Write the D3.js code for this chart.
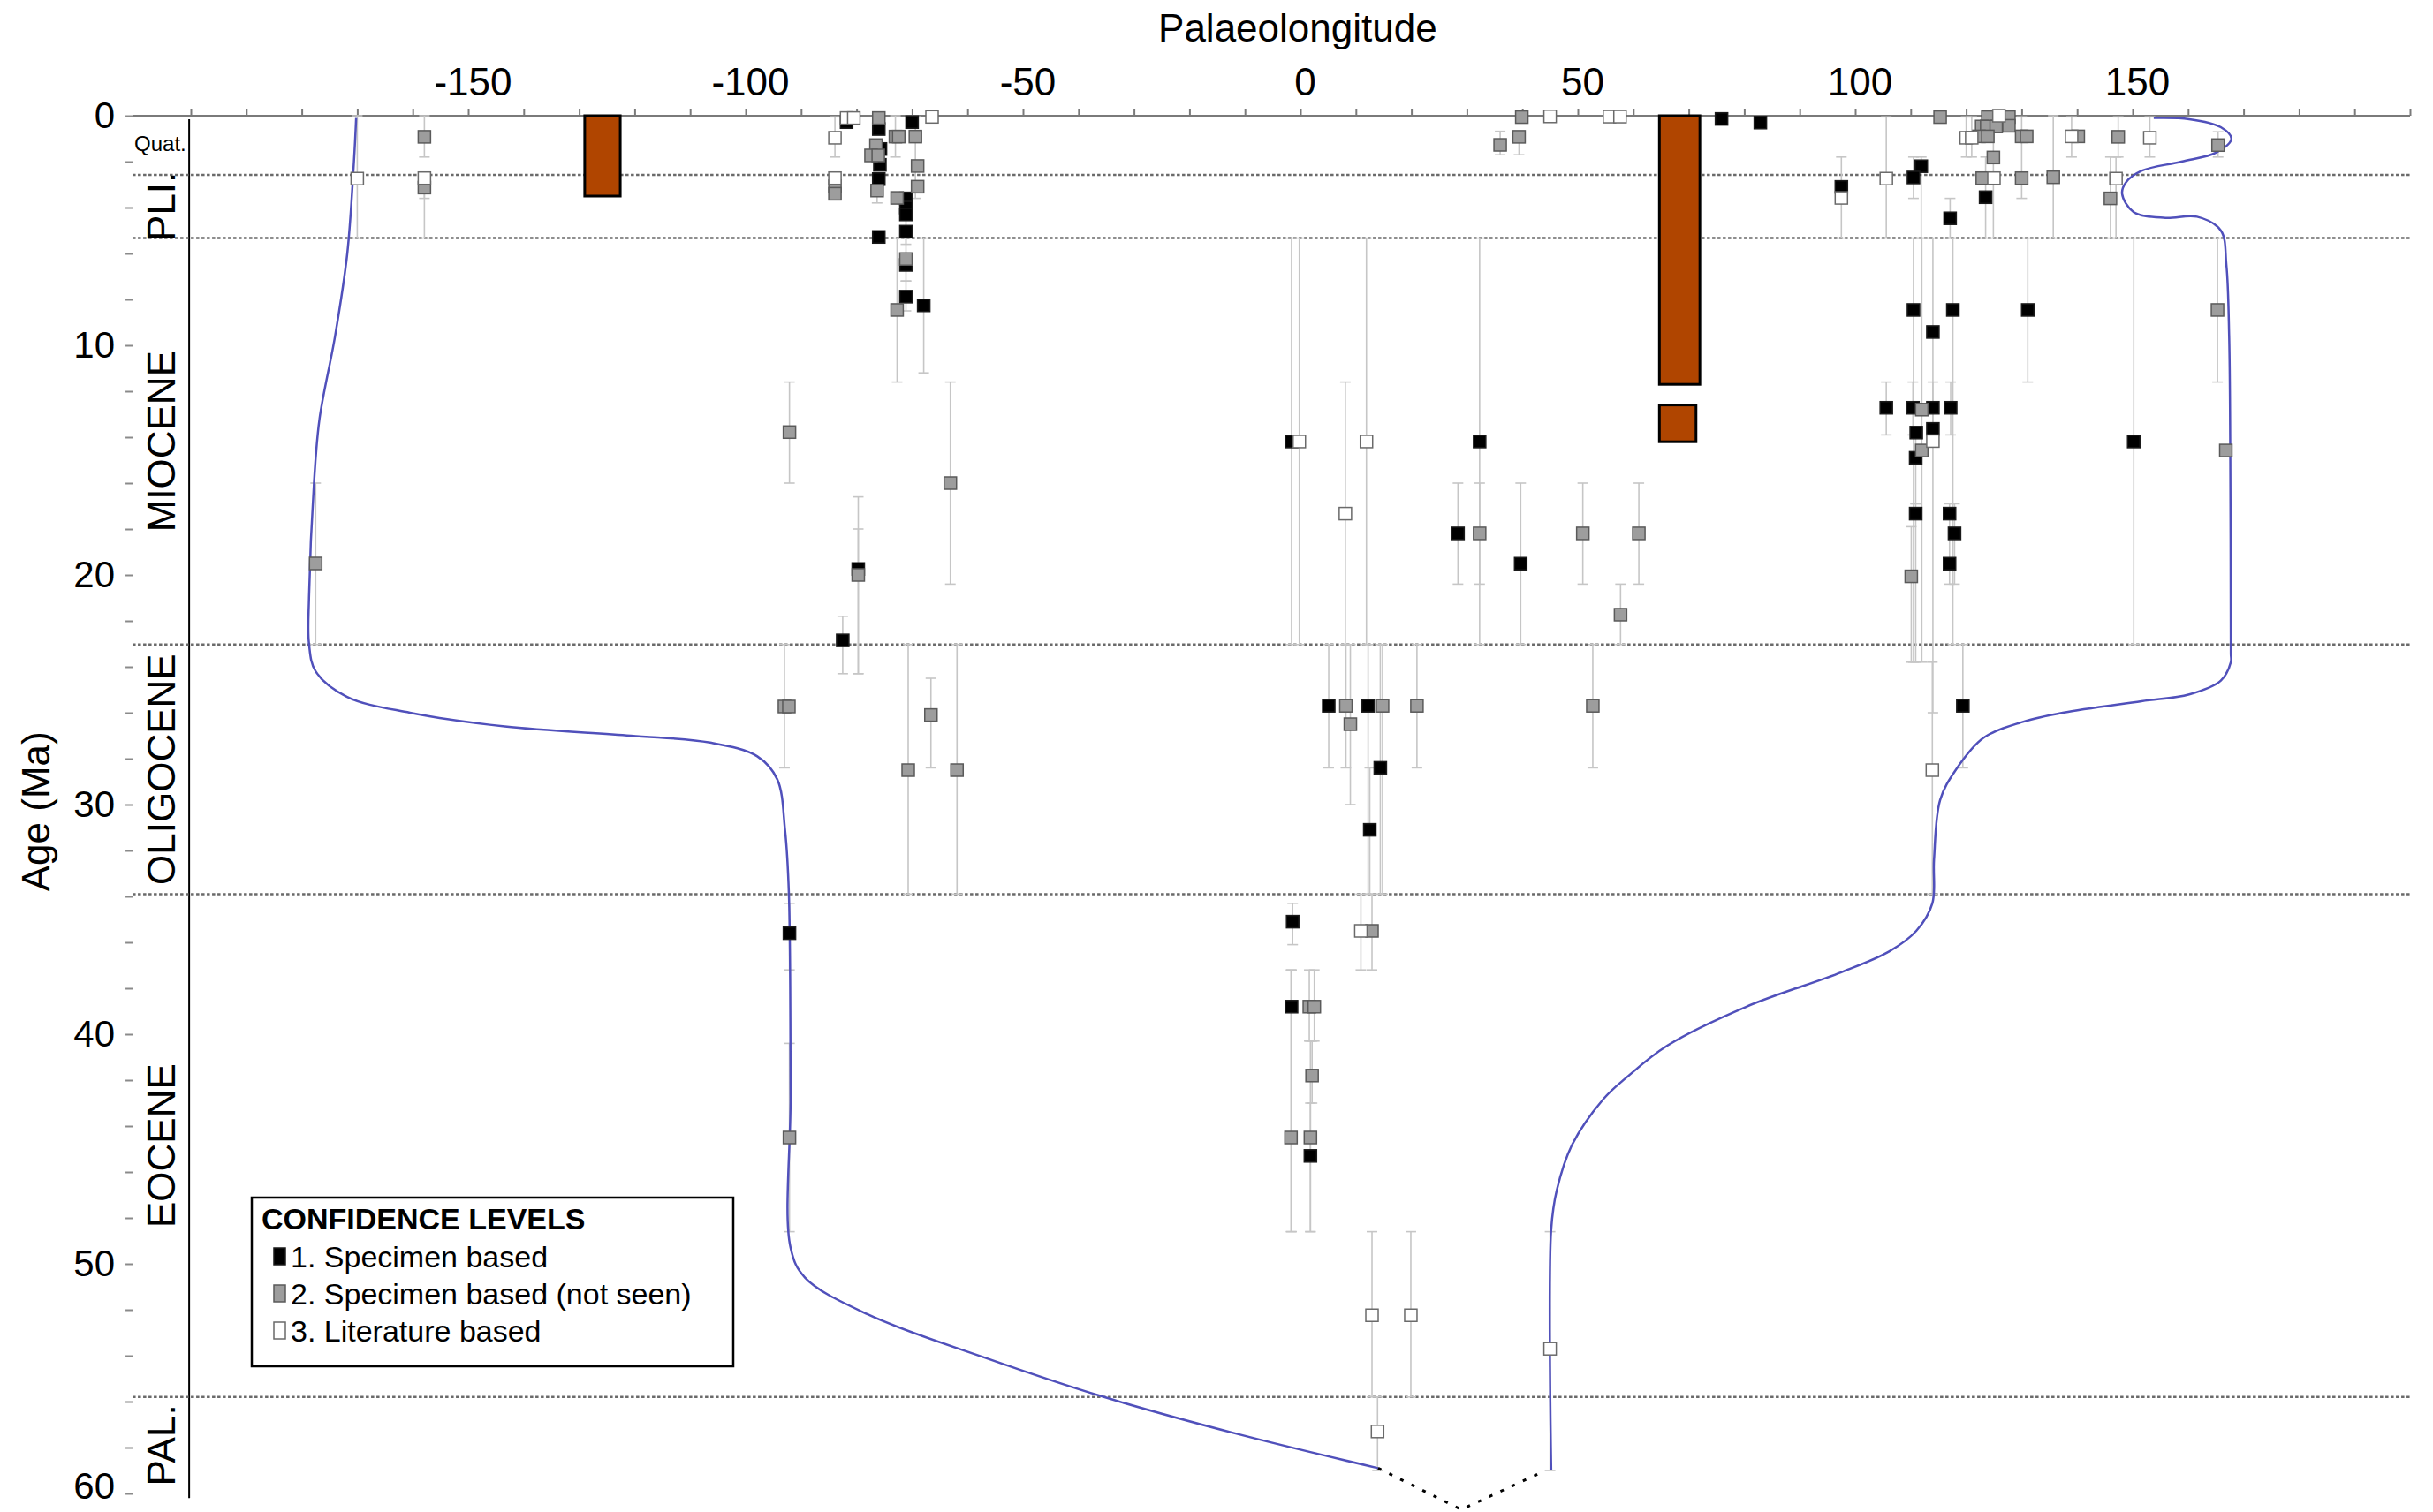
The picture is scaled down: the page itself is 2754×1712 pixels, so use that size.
<!DOCTYPE html>
<html>
<head>
<meta charset="utf-8">
<script src="https://cdn.jsdelivr.net/npm/d3@7"></script>
<style>
    body { margin: 0; background: #fff; }
    svg { display: block; font-family: "Liberation Sans", Arial, sans-serif; }
</style>
</head>
<body>
<div id="chart"></div>
<script>
var epochNames = ["Quat.", "PLI.", "MIOCENE", "OLIGOCENE", "EOCENE", "PAL."];
var epochBounds = [0, 2.58, 5.33, 23.03, 33.9, 55.8, 60];

var lonLabels = [-150, -100, -50, 0, 50, 100, 150];
var ageLabels = [0, 10, 20, 30, 40, 50, 60];

var legendTitle = "CONFIDENCE LEVELS";
var legendLabels = ["1. Specimen based", "2. Specimen based (not seen)", "3. Literature based"];

// [palaeolongitude, age (Ma), age range min, age range max]
var specimenPoints = [
    [-81.8, 0.28], [-76.0, 0.58], [-70.0, 0.28], [-75.7, 1.45], [-75.8, 2.14],
    [-76.0, 2.76], [-71.1, 3.6], [-71.1, 4.0], [-71.1, 4.3], [-71.1, 5.05, 4.0, 5.6],
    [-76.0, 5.28], [-71.1, 6.5, 5.33, 7.2], [-71.1, 7.88, 7.2, 8.5], [-67.9, 8.26, 5.33, 11.2],
    [-79.7, 19.74, 18.0, 24.3], [-82.5, 22.85, 21.8, 24.3], [-92.1, 35.6, 34.3, 37.2],
    [75.9, 0.14], [82.9, 0.3],
    [111.9, 2.2, 1.8, 5.33], [110.5, 2.69, 1.8, 3.6], [97.5, 3.1, 1.8, 5.33],
    [123.5, 3.55, 1.8, 5.33], [117.1, 4.47, 3.6, 5.33],
    [110.5, 8.46, 5.33, 23.8], [117.6, 8.46, 5.33, 23.03], [131.1, 8.46, 5.33, 11.6],
    [114.0, 9.42, 5.33, 26.0],
    [105.6, 12.72, 11.6, 13.9], [110.4, 12.72, 11.6, 13.9], [114.0, 12.72, 11.6, 13.9],
    [117.2, 12.72, 11.6, 13.9], [111.0, 13.8], [114.0, 13.64], [110.9, 14.9, 13.9, 16.9],
    [150.2, 14.19, 5.33, 23.03], [-1.6, 14.19, 5.33, 23.03], [32.3, 14.19, 5.33, 23.03],
    [110.9, 17.33, 16.9, 23.8], [117.0, 17.33, 16.9, 20.4], [117.9, 18.19, 16.9, 20.4],
    [117.0, 19.51], [28.4, 18.19, 16.0, 20.4], [39.7, 19.51, 16.0, 23.03],
    [5.1, 25.7, 23.03, 28.4], [12.2, 25.7, 23.03, 33.9], [119.4, 25.7, 23.03, 28.4],
    [14.4, 28.4, 23.03, 33.9], [12.5, 31.1, 28.4, 33.9],
    [-1.4, 35.1, 34.3, 36.1], [-1.6, 38.8, 37.2, 48.6], [1.8, 45.3, 43.0, 48.6]
];

var notSeenPoints = [
    [-157.9, 0.92, 0, 1.8], [-157.9, 3.13, 2.58, 5.33],
    [-76.0, 0.1, 0, 0.8], [-73.0, 0.91, 0, 1.8], [-72.4, 0.91], [-69.4, 0.91, 0.05, 3.6],
    [-76.5, 1.28], [-77.4, 1.73], [-76.1, 1.73], [-69.0, 2.19], [-69.0, 3.09],
    [-76.3, 3.26, 2.6, 3.8], [-83.9, 3.07], [-83.9, 3.4], [-72.7, 3.58], [-71.1, 6.24],
    [-72.7, 8.46, 5.33, 11.6], [-92.1, 13.78, 11.6, 16.0], [-63.1, 16.0, 11.6, 20.4],
    [-177.5, 19.5, 16.0, 23.03], [-79.7, 20.0, 16.6, 24.3],
    [-93.0, 25.73, 23.03, 28.4], [-92.2, 25.73], [-66.6, 26.1, 24.5, 28.4],
    [-70.7, 28.5, 23.03, 33.9], [-61.9, 28.5, 23.03, 33.9], [-92.1, 44.5, 40.4, 48.6],
    [39.9, 0.06], [39.4, 0.92, 0.68, 1.7], [36.0, 1.27, 0.68, 1.7],
    [115.3, 0.06], [123.9, 0.06], [127.7, 0.06], [122.8, 0.47], [123.7, 0.47],
    [125.4, 0.47], [127.7, 0.44], [122.3, 0.9], [123.9, 0.9], [130.0, 0.9, 0.05, 3.6],
    [130.9, 0.9], [140.2, 0.9], [147.4, 0.92, 0.05, 1.8], [165.4, 1.28, 0.7, 1.8],
    [124.9, 1.82, 0, 5.33], [122.9, 2.72], [130.0, 2.72], [135.7, 2.68, 0, 5.33],
    [146.0, 3.6, 1.8, 5.33],
    [165.3, 8.46, 5.33, 11.6], [112.0, 12.8, 5.33, 23.8], [112.0, 14.58],
    [110.1, 20.06, 17.9, 23.8], [166.8, 14.58],
    [32.3, 18.19, 16.0, 20.4], [50.9, 18.19, 16.0, 20.4], [61.0, 18.19, 16.0, 20.4],
    [57.7, 21.73, 20.4, 23.03],
    [8.2, 25.7, 23.03, 28.4], [14.8, 25.7, 23.03, 33.9], [21.0, 25.7, 23.03, 28.4],
    [52.7, 25.7, 23.03, 28.4], [9.0, 26.5, 23.03, 30.0],
    [12.9, 35.5, 33.9, 37.2], [1.6, 38.8, 37.2, 40.3], [2.5, 38.8, 37.2, 40.3],
    [2.1, 41.8, 40.3, 43.0], [-1.7, 44.5, 37.2, 48.6], [1.8, 44.5, 40.3, 48.6]
];

var literaturePoints = [
    [-170.0, 2.74, 0, 5.33], [-157.9, 2.72, 2.58, 3.6],
    [-81.8, 0.1], [-80.5, 0.1], [-66.4, 0.05], [-83.9, 0.96, 0.05, 1.8], [-83.9, 2.72, 2.58, 3.6],
    [45.0, 0.03], [55.7, 0.04], [57.6, 0.04],
    [125.9, 0.0], [120.0, 0.96, 0.05, 1.8], [121.0, 0.96, 0.05, 1.8], [139.0, 0.9, 0.05, 1.8],
    [153.1, 0.96, 0.05, 1.8], [105.6, 2.74, 0.05, 5.33], [125.0, 2.72], [147.0, 2.74, 1.8, 5.33],
    [97.5, 3.58],
    [114.0, 14.17], [-0.2, 14.19, 5.33, 23.03], [11.9, 14.19, 5.33, 23.03], [8.1, 17.33, 11.6, 23.03],
    [113.9, 28.5, 23.8, 33.9], [10.9, 35.5, 33.9, 37.2],
    [12.9, 52.24, 48.6, 55.8], [19.9, 52.24, 48.6, 55.8], [45.0, 53.7, 48.6, 59.0], [13.9, 57.3, 55.8, 59.0]
];

// [lon min, lon max, age min, age max]
var rangeBars = [
    [-129.0, -122.6, 0, 3.5],
    [64.7, 72.0, 0, 11.7],
    [64.7, 71.3, 12.6, 14.2]
];

// [palaeolongitude, age]
var westCurve = [
    [-170.2, 0.1], [-170.6, 2.0], [-171.8, 6.0], [-174.0, 9.6], [-176.8, 13.2], [-177.8, 16.0],
    [-178.7, 21.0], [-178.7, 23.0], [-177.5, 24.2], [-171.9, 25.3], [-160.5, 26.0],
    [-143.4, 26.6], [-120.7, 27.0], [-106.4, 27.3], [-97.9, 27.9], [-94.3, 28.9],
    [-92.9, 31.1], [-92.2, 33.9], [-91.9, 42.7], [-91.9, 49.3], [-89.3, 50.6],
    [-78.0, 52.2], [-56.7, 54.1], [-35.4, 55.8], [-11.5, 57.4], [14.0, 58.9]
];

var eastCurve = [
    [153.8, 0.1], [160.2, 0.15], [165.9, 0.5], [167.8, 1.0], [165.1, 1.6], [158.8, 2.0],
    [151.6, 2.4], [148.8, 2.9], [148.1, 3.4], [150.2, 4.2], [155.9, 4.45], [161.6, 4.4],
    [165.9, 5.0], [166.9, 6.5], [167.4, 9.6], [167.6, 14.7], [167.7, 23.4], [167.7, 23.8],
    [165.9, 24.6], [160.2, 25.2], [151.6, 25.5], [137.4, 26.0], [130.2, 26.4], [123.1, 27.1],
    [118.1, 28.5], [115.3, 29.8], [114.2, 32.4], [113.9, 34.3], [111.0, 35.5], [106.1, 36.4],
    [97.5, 37.3], [80.4, 38.8], [66.1, 40.5], [58.7, 41.9], [54.7, 42.8], [49.0, 44.8],
    [46.2, 46.8], [45.2, 48.5], [45.2, 59.0]
];

var curveGap = [[14.0, 58.9], [29.0, 60.7], [43.3, 59.1]];

(function() {
    var width = 2754,
        height = 1712,
        markerSize = 14,
        capWidth = 12,
        axisLeftLon = -210.5;

    var svg = d3.select("#chart")
                .append("svg")
                .attr("width", width)
                .attr("height", height);

    svg.append("rect")
       .attr("width", width)
       .attr("height", height)
       .style("fill", "#fff");

    var x = d3.scaleLinear().domain([-200, 200]).range([216, 2728]);
    var y = d3.scaleLinear().domain([0, 60]).range([131, 1691]);

    // palaeolongitude axis on top
    var xAxis = d3.axisTop(x)
                  .tickValues(d3.range(-200, 201, 10))
                  .tickFormat(function(d) { return lonLabels.indexOf(d) >= 0 ? String(d) : ""; })
                  .tickSize(8)
                  .tickSizeOuter(0)
                  .tickPadding(15);

    var gx = svg.append("g")
                .attr("transform", "translate(0," + y(0) + ")")
                .call(xAxis);
    gx.select(".domain").remove();
    gx.selectAll(".tick line").style("stroke", "#7a7a7a").style("stroke-width", 2);
    gx.selectAll(".tick text")
      .attr("dx", 5)
      .style("font-size", "44px")
      .style("font-family", "'Liberation Sans', Arial, sans-serif")
      .style("fill", "#000");

    svg.append("line")
       .attr("x1", x(axisLeftLon))
       .attr("x2", x(200))
       .attr("y1", y(0))
       .attr("y2", y(0))
       .style("stroke", "#7a7a7a")
       .style("stroke-width", 2);

    svg.append("text")
       .attr("x", x(-0.5))
       .attr("y", 47)
       .attr("text-anchor", "middle")
       .style("font-size", "44px")
       .text("Palaeolongitude");

    // age axis
    var yAxis = d3.axisLeft(y)
                  .tickValues(d3.range(0, 61, 2))
                  .tickFormat(function(d) { return ageLabels.indexOf(d) >= 0 ? String(d) : ""; })
                  .tickSize(8)
                  .tickSizeOuter(0)
                  .tickPadding(12);

    var gy = svg.append("g")
                .attr("transform", "translate(" + x(axisLeftLon) + ",0)")
                .call(yAxis);
    gy.select(".domain").remove();
    gy.selectAll(".tick line").style("stroke", "#8a8a8a").style("stroke-width", 2);
    gy.selectAll(".tick text")
      .attr("dy", function(d) { return d === 60 ? "0.12em" : "0.32em"; })
      .style("font-size", "42px")
      .style("font-family", "'Liberation Sans', Arial, sans-serif")
      .style("fill", "#000");

    svg.append("text")
       .attr("transform", "translate(56," + y(30.3) + ") rotate(-90)")
       .attr("text-anchor", "middle")
       .style("font-size", "44px")
       .text("Age (Ma)");

    // epoch column
    svg.append("line")
       .attr("x1", x(-200.3))
       .attr("x2", x(-200.3))
       .attr("y1", y(0.15))
       .attr("y2", y(60.2))
       .style("stroke", "#000")
       .style("stroke-width", 2);

    svg.selectAll(".epochBoundary")
       .data(epochBounds.slice(1, -1))
       .enter()
       .append("line")
       .attr("class", "epochBoundary")
       .attr("x1", x(axisLeftLon))
       .attr("x2", x(200))
       .attr("y1", function(d) { return y(d); })
       .attr("y2", function(d) { return y(d); })
       .style("stroke", "#6a6a6a")
       .style("stroke-width", 2.5)
       .style("stroke-dasharray", "3.5,2.5");

    epochNames.forEach(function(name, i) {
        var mid = (epochBounds[i] + epochBounds[i + 1]) / 2;
        if (i === 0) {
            svg.append("text")
               .attr("x", x(axisLeftLon) + 2)
               .attr("y", y(1.55))
               .style("font-size", "24px")
               .text(name);
        } else {
            svg.append("text")
               .attr("transform", "translate(" + (x(-200.3) - 16) + "," + y(mid) + ") rotate(-90)")
               .attr("text-anchor", "middle")
               .style("font-size", "44px")
               .text(name);
        }
    });

    // age range error bars
    var allLevels = [
        {points : specimenPoints, fill : "#000", stroke : "#1a1a1a"},
        {points : notSeenPoints, fill : "#9d9d9d", stroke : "#5a5a5a"},
        {points : literaturePoints, fill : "#fff", stroke : "#6a6a6a"}
    ];

    var errGroup = svg.append("g").attr("class", "errorBars");
    allLevels.forEach(function(level) {
        var withRange = level.points.filter(function(p) { return p.length > 2; });
        var bars = errGroup.selectAll(null)
                           .data(withRange)
                           .enter()
                           .append("g");
        bars.append("line")
            .attr("x1", function(p) { return x(p[0]); })
            .attr("x2", function(p) { return x(p[0]); })
            .attr("y1", function(p) { return y(p[2]); })
            .attr("y2", function(p) { return y(p[3]); });
        bars.append("line")
            .attr("x1", function(p) { return x(p[0]) - capWidth / 2; })
            .attr("x2", function(p) { return x(p[0]) + capWidth / 2; })
            .attr("y1", function(p) { return y(p[2]); })
            .attr("y2", function(p) { return y(p[2]); });
        bars.append("line")
            .attr("x1", function(p) { return x(p[0]) - capWidth / 2; })
            .attr("x2", function(p) { return x(p[0]) + capWidth / 2; })
            .attr("y1", function(p) { return y(p[3]); })
            .attr("y2", function(p) { return y(p[3]); });
    });
    errGroup.selectAll("line")
            .style("stroke", "#c6c6c6")
            .style("stroke-width", 1.6);

    // palaeo-position curves
    var curveLine = d3.line()
                      .x(function(d) { return x(d[0]); })
                      .y(function(d) { return y(d[1]); })
                      .curve(d3.curveCatmullRom.alpha(0.5));

    [westCurve, eastCurve].forEach(function(c) {
        svg.append("path")
           .attr("d", curveLine(c))
           .style("fill", "none")
           .style("stroke", "#5050bb")
           .style("stroke-width", 2.5);
    });

    svg.append("path")
       .attr("d", d3.line()
                    .x(function(d) { return x(d[0]); })
                    .y(function(d) { return y(d[1]); })(curveGap))
       .style("fill", "none")
       .style("stroke", "#000")
       .style("stroke-width", 3)
       .style("stroke-dasharray", "4,10");

    // range bars
    svg.selectAll(".rangeBar")
       .data(rangeBars)
       .enter()
       .append("rect")
       .attr("class", "rangeBar")
       .attr("x", function(d) { return x(d[0]); })
       .attr("y", function(d) { return y(d[2]); })
       .attr("width", function(d) { return x(d[1]) - x(d[0]); })
       .attr("height", function(d) { return y(d[3]) - y(d[2]); })
       .style("fill", "#b04500")
       .style("stroke", "#000")
       .style("stroke-width", 3);

    // records
    allLevels.forEach(function(level) {
        svg.append("g")
           .selectAll("rect")
           .data(level.points)
           .enter()
           .append("rect")
           .attr("x", function(p) { return x(p[0]) - markerSize / 2; })
           .attr("y", function(p) { return y(p[1]) - markerSize / 2; })
           .attr("width", markerSize)
           .attr("height", markerSize)
           .style("fill", level.fill)
           .style("stroke", level.stroke)
           .style("stroke-width", 1.5);
    });

    // legend
    var legend = svg.append("g")
                    .attr("transform", "translate(285,1356)");

    legend.append("rect")
          .attr("width", 545)
          .attr("height", 191)
          .style("fill", "#fff")
          .style("stroke", "#000")
          .style("stroke-width", 2.5);

    legend.append("text")
          .attr("x", 11)
          .attr("y", 36)
          .style("font-size", "34px")
          .style("font-weight", "bold")
          .text(legendTitle);

    var rows = legend.selectAll(".legendRow")
                     .data(legendLabels)
                     .enter()
                     .append("g")
                     .attr("class", "legendRow")
                     .attr("transform", function(d, i) { return "translate(0," + (79 + i * 42) + ")"; });

    rows.append("rect")
        .attr("x", 25)
        .attr("y", -22)
        .attr("width", 13)
        .attr("height", 19)
        .style("fill", function(d, i) { return allLevels[i].fill; })
        .style("stroke", function(d, i) { return allLevels[i].stroke; })
        .style("stroke-width", 1.5);

    rows.append("text")
        .attr("x", 44)
        .style("font-size", "34px")
        .text(function(d) { return d; });
})();
</script>
</body>
</html>
